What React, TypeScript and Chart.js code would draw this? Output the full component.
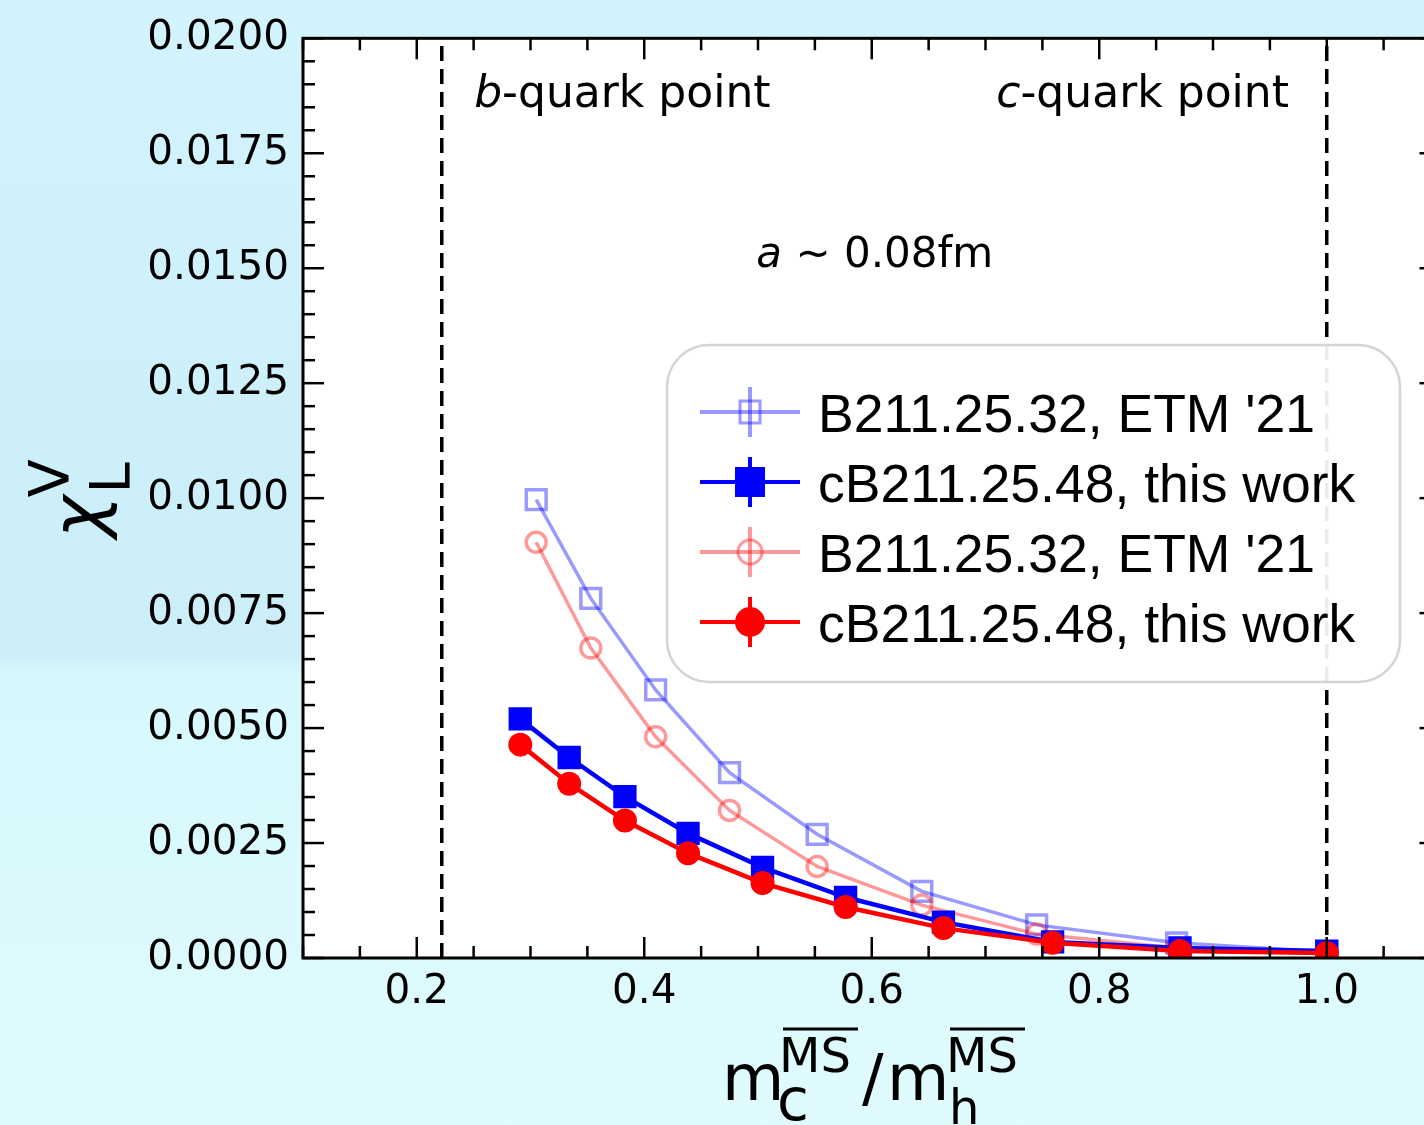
import React, { useEffect, useRef } from 'react';
import { Chart, registerables } from 'chart.js';

Chart.register(...registerables);

// ---- data ----
const xOld = [0.305, 0.353, 0.410, 0.475, 0.552, 0.644, 0.745, 0.868, 1.0];
const yOldBlue = [0.00997, 0.00782, 0.00583, 0.00403, 0.00269, 0.00145, 0.00072, 0.00033, 0.00013];
const yOldRed = [0.00904, 0.00674, 0.00481, 0.00321, 0.00199, 0.00115, 0.00052, 0.00022, 0.00011];
const xNew = [0.291, 0.334, 0.383, 0.4385, 0.504, 0.577, 0.663, 0.759, 0.871, 1.0];
const yNewBlue = [0.0052, 0.00436, 0.00351, 0.00271, 0.00197, 0.00132, 0.00078, 0.00035, 0.00022, 0.00015];
const yNewRed = [0.00464, 0.00379, 0.00299, 0.00228, 0.00163, 0.00111, 0.00065, 0.00033, 0.00015, 0.00011];

const xMajorTicks = [0.2, 0.4, 0.6, 0.8, 1.0];
const yMajorTicks = [0, 0.0025, 0.005, 0.0075, 0.01, 0.0125, 0.015, 0.0175, 0.02];
const xMinorTicks = [0.1, 0.15, 0.25, 0.3, 0.35, 0.45, 0.5, 0.55, 0.65, 0.7, 0.75, 0.85, 0.9, 0.95, 1.05];
const yMinorTicks = [0.0005, 0.001, 0.0015, 0.002, 0.003, 0.0035, 0.004, 0.0045, 0.0055, 0.006, 0.0065, 0.007,
  0.008, 0.0085, 0.009, 0.0095, 0.0105, 0.011, 0.0115, 0.012, 0.013, 0.0135, 0.014, 0.0145, 0.0155, 0.016,
  0.0165, 0.017, 0.018, 0.0185, 0.019, 0.0195];

const bQuarkX = 0.222;
const cQuarkX = 1.0;
const legendLabels = ["B211.25.32, ETM '21", 'cB211.25.48, this work', "B211.25.32, ETM '21", 'cB211.25.48, this work'];

const LIGHT_BLUE = 'rgba(0,0,255,0.4)';
const LIGHT_RED = 'rgba(255,0,0,0.4)';
const BLUE = '#0000ff';
const RED = '#ff0000';
const DV = '"DejaVu Sans"';

const toPts = (xs: number[], ys: number[]) => xs.map((x, i) => ({ x, y: ys[i] }));

const framePlugin = {
  id: 'frameTicks',
  beforeDraw(chart: any) {
    const { ctx, chartArea: a } = chart;
    ctx.save();
    ctx.fillStyle = '#ffffff';
    ctx.fillRect(a.left, a.top, a.right - a.left, a.bottom - a.top);
    ctx.restore();
  },
  afterDatasetsDraw(chart: any) {
    const { ctx, chartArea: a, scales } = chart;
    const xs = scales.x, ys = scales.y;
    ctx.save();
    ctx.strokeStyle = '#000';
    ctx.lineWidth = 2.5;
    const tick = (x1: number, y1: number, x2: number, y2: number) => {
      ctx.beginPath(); ctx.moveTo(x1, y1); ctx.lineTo(x2, y2); ctx.stroke();
    };
    xMajorTicks.forEach(v => { const p = xs.getPixelForValue(v); tick(p, a.bottom, p, a.bottom - 21); tick(p, a.top, p, a.top + 21); });
    xMinorTicks.forEach(v => { const p = xs.getPixelForValue(v); tick(p, a.bottom, p, a.bottom - 12); tick(p, a.top, p, a.top + 12); });
    yMajorTicks.forEach(v => { const p = ys.getPixelForValue(v); tick(a.left, p, a.left + 21, p); tick(a.right, p, a.right - 21, p); });
    yMinorTicks.forEach(v => { const p = ys.getPixelForValue(v); tick(a.left, p, a.left + 12, p); tick(a.right, p, a.right - 12, p); });
    ctx.lineWidth = 3;
    ctx.strokeRect(a.left, a.top, a.right - a.left, a.bottom - a.top);
    ctx.restore();
  },
  afterDraw(chart: any) {
    const { ctx, scales } = chart;
    const xs = scales.x, ys = scales.y;
    ctx.save();
    ctx.fillStyle = '#000';
    ctx.textBaseline = 'alphabetic';
    ctx.textAlign = 'left';

    // annotations
    const drawMixed = (parts: [string, string][], x: number, y: number) => {
      let cx = x;
      parts.forEach(([font, t]) => { ctx.font = font; ctx.fillText(t, cx, y); cx += ctx.measureText(t).width; });
    };
    drawMixed([[`italic 44px ${DV}`, 'b'], [`44px ${DV}`, '-quark point']], xs.getPixelForValue(0.2505), ys.getPixelForValue(0.01851));
    drawMixed([[`italic 44px ${DV}`, 'c'], [`44px ${DV}`, '-quark point']], xs.getPixelForValue(0.7095), ys.getPixelForValue(0.01851));
    drawMixed([[`italic 42px ${DV}`, 'a'], [`42px ${DV}`, ' ∼ 0.08fm']], xs.getPixelForValue(0.4985), ys.getPixelForValue(0.01502));

    // legend
    const bx = 667, by = 345, bw = 733, bh = 337;
    ctx.beginPath();
    ctx.roundRect(bx, by, bw, bh, 42);
    ctx.fillStyle = 'rgba(255,255,255,0.92)';
    ctx.fill();
    ctx.strokeStyle = '#d4d4d4';
    ctx.lineWidth = 2.5;
    ctx.stroke();
    const rows = [412, 482, 552, 622];
    const styles = [
      { c: LIGHT_BLUE, m: 'sq', fill: false },
      { c: BLUE, m: 'sq', fill: true },
      { c: LIGHT_RED, m: 'ci', fill: false },
      { c: RED, m: 'ci', fill: true },
    ];
    rows.forEach((ry, i) => {
      const s = styles[i];
      ctx.strokeStyle = s.c;
      ctx.fillStyle = s.c;
      ctx.lineWidth = 4;
      ctx.beginPath(); ctx.moveTo(700, ry); ctx.lineTo(800, ry); ctx.stroke();
      ctx.beginPath(); ctx.moveTo(750, ry - 25); ctx.lineTo(750, ry + 25); ctx.stroke();
      if (s.m === 'sq') {
        if (s.fill) ctx.fillRect(735, ry - 15, 30, 30);
        else { ctx.lineWidth = 3; ctx.strokeRect(740, ry - 11, 20, 22); }
      } else {
        ctx.beginPath(); ctx.arc(750, ry, s.fill ? 15 : 12, 0, Math.PI * 2);
        if (s.fill) ctx.fill(); else { ctx.lineWidth = 3; ctx.stroke(); }
      }
      ctx.fillStyle = '#000';
      ctx.font = '53.5px "Liberation Sans", Arial, sans-serif';
      ctx.fillText(legendLabels[i], 818, ry + 20);
    });

    // y-axis label chi_L^V (rotated)
    ctx.save();
    ctx.translate(102, 538);
    ctx.rotate(-Math.PI / 2);
    ctx.fillStyle = '#000';
    ctx.font = `italic 72px ${DV}`;
    ctx.fillText('χ', 0, 0);
    const w = ctx.measureText('χ').width;
    ctx.font = `56px ${DV}`;
    ctx.fillText('L', w + 2, 27);
    ctx.fillText('V', w - 2, -34);
    ctx.restore();

    // x-axis label m_c^{MS}/m_h^{MS}
    ctx.fillStyle = '#000';
    ctx.strokeStyle = '#000';
    ctx.font = `64px ${DV}`;
    ctx.fillText('m', 722, 1100);
    ctx.font = `58px ${DV}`;
    ctx.fillText('c', 777, 1120);
    ctx.font = `48px ${DV}`;
    ctx.fillText('MS', 779, 1072);
    ctx.lineWidth = 3;
    ctx.beginPath(); ctx.moveTo(783, 1029); ctx.lineTo(858, 1029); ctx.stroke();
    ctx.font = `64px ${DV}`;
    ctx.fillText('/', 862, 1100);
    ctx.fillText('m', 887, 1100);
    ctx.font = `48px ${DV}`;
    ctx.fillText('h', 949, 1124);
    ctx.fillText('MS', 946, 1072);
    ctx.beginPath(); ctx.moveTo(950, 1029); ctx.lineTo(1025, 1029); ctx.stroke();

    ctx.restore();
  },
};

export default function App() {
  const ref = useRef<HTMLCanvasElement>(null);
  useEffect(() => {
    const canvas = ref.current!;
    const chart = new Chart(canvas, {
      type: 'line',
      data: {
        datasets: [
          {
            label: legendLabels[3], data: toPts(xNew, yNewRed), borderColor: RED, backgroundColor: RED,
            borderWidth: 4.5, pointStyle: 'circle', pointRadius: 12, pointBorderWidth: 0, order: 0,
          },
          {
            label: legendLabels[1], data: toPts(xNew, yNewBlue), borderColor: BLUE, backgroundColor: BLUE,
            borderWidth: 4.5, pointStyle: 'rect', pointRadius: 16.5, pointBorderWidth: 0, order: 1,
          },
          {
            label: legendLabels[2], data: toPts(xOld, yOldRed), borderColor: LIGHT_RED, backgroundColor: 'rgba(0,0,0,0)',
            borderWidth: 3.5, pointStyle: 'circle', pointRadius: 10, pointBorderWidth: 3.5, order: 2,
          },
          {
            label: legendLabels[0], data: toPts(xOld, yOldBlue), borderColor: LIGHT_BLUE, backgroundColor: 'rgba(0,0,0,0)',
            borderWidth: 3.5, pointStyle: 'rect', pointRadius: 14, pointBorderWidth: 3.5, order: 3,
          },
          {
            label: 'b', data: [{ x: bQuarkX, y: 0 }, { x: bQuarkX, y: 0.02 }], borderColor: '#000',
            borderWidth: 3.5, borderDash: [15, 8], pointRadius: 0, order: 4,
          },
          {
            label: 'c', data: [{ x: cQuarkX, y: 0 }, { x: cQuarkX, y: 0.02 }], borderColor: '#000',
            borderWidth: 3.5, borderDash: [15, 8], pointRadius: 0, order: 5,
          },
        ],
      },
      options: {
        responsive: false,
        animation: false,
        layout: { padding: { left: 0, top: 35, right: 19.5, bottom: 0 } },
        plugins: { legend: { display: false }, tooltip: { enabled: false } },
        elements: { line: { tension: 0 } },
        scales: {
          x: {
            type: 'linear', min: 0.1, max: 1.1,
            grid: { display: false, drawTicks: false }, border: { display: false },
            afterBuildTicks: (s: any) => { s.ticks = xMajorTicks.map(v => ({ value: v })); },
            afterFit: (s: any) => { s.height = 167; },
            ticks: {
              color: '#000', padding: 10, maxRotation: 0, autoSkip: false,
              font: { family: 'DejaVu Sans', size: 40.5 },
              callback: (v: any) => Number(v).toFixed(1),
            },
          },
          y: {
            type: 'linear', min: 0, max: 0.02,
            grid: { display: false, drawTicks: false }, border: { display: false },
            afterBuildTicks: (s: any) => { s.ticks = yMajorTicks.map(v => ({ value: v })); },
            afterFit: (s: any) => { s.width = 303; },
            ticks: {
              color: '#000', padding: 14, autoSkip: false,
              font: { family: 'DejaVu Sans', size: 40.5 },
              callback: (v: any) => Number(v).toFixed(4),
            },
          },
        },
      },
      plugins: [framePlugin],
    } as any);
    return () => chart.destroy();
  }, []);
  return (
    <div
      style={{
        position: 'fixed', left: 0, top: 0, width: 1424, height: 1125, overflow: 'hidden',
        background: 'linear-gradient(180deg, #d3f4fd 0%, #cdeffa 40%, #cceef9 58%, #d6f8fd 60%, #e0fbfe 100%)',
      }}
    >
      <canvas ref={ref} width={1460} height={1125} style={{ display: 'block', width: 1460, height: 1125 }} />
    </div>
  );
}
